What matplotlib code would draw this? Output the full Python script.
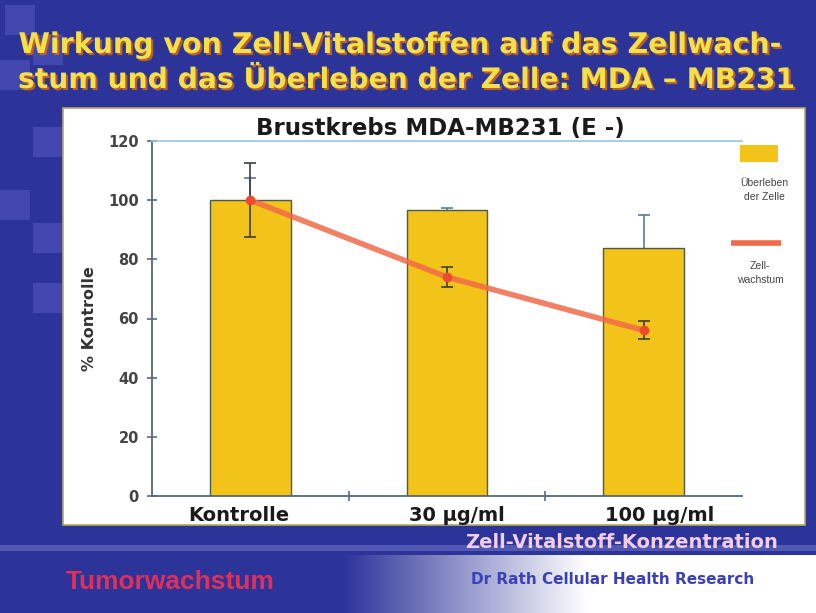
import numpy as np
import matplotlib
matplotlib.use('Agg')
import matplotlib.pyplot as plt
from matplotlib.patches import Rectangle
import matplotlib.patheffects as pe

# data
categories = ['Kontrolle', '30 µg/ml', '100 µg/ml']
survival = [100, 96.6, 84]          # Überleben der Zelle (bars)
survival_err = [7.4, 0.8, 11]
growth = [100, 74, 56]              # Zellwachstum (line)
growth_err = [12.5, 3.4, 3]
yticks = [0, 20, 40, 60, 80, 100, 120]

W, H = 816, 613
BLUE = '#2c3399'
YELLOW = '#f2c318'
ORANGE = '#f26a48'
AXCOL = '#56687a'
WIDE = ['DejaVu Sans']

plt.rcParams['font.family'] = ['Liberation Sans', 'DejaVu Sans']

fig = plt.figure(figsize=(W / 100, H / 100), dpi=100)
fig.patch.set_facecolor(BLUE)

# background layer in pixel coords
bg = fig.add_axes([0, 0, 1, 1])
bg.set_xlim(0, W)
bg.set_ylim(H, 0)
bg.axis('off')

# faint checker decoration
for (x0, y0) in [(5, 5), (33, 35), (0, 60), (33, 127), (0, 190), (33, 223), (33, 283)]:
    bg.add_patch(Rectangle((x0, y0), 30, 30, color='#4248ad', lw=0, zorder=0))

# bottom gradient: blue on the left fading to white on the right
grad = np.linspace(0, 1, 400)
grad = np.clip((grad - 0.42) / 0.3, 0, 1)
c0 = np.array(matplotlib.colors.to_rgb(BLUE))
c1 = np.array([1.0, 1.0, 1.0])
img = c0[None, :] * (1 - grad[:, None]) + c1[None, :] * grad[:, None]
img = np.tile(img[None, :, :], (2, 1, 1))
bg.imshow(img, extent=(0, W, H, 555), aspect='auto', zorder=1)
bg.add_patch(Rectangle((0, 545), W, 6, color='#5058b2', lw=0, zorder=1))

# white chart panel
bg.add_patch(Rectangle((63, 108), 742, 417, facecolor='white', edgecolor='#b8a862',
                       lw=1.2, zorder=2))

# slide titles
shadow = [pe.withSimplePatchShadow(offset=(1.5, -1.5), shadow_rgbFace='#c8641e', alpha=0.9)]
bg.text(400, 45, 'Wirkung von Zell-Vitalstoffen auf das Zellwach-', color='#f4e04a',
        fontsize=20.5, fontweight='bold', family=WIDE, ha='center', va='center', zorder=3,
        path_effects=shadow)
bg.text(408, 80, 'stum und das Überleben der Zelle: MDA – MB231', color='#f4e04a',
        fontsize=20.3, fontweight='bold', family=WIDE, ha='center', va='center', zorder=3,
        path_effects=shadow)

bg.text(622, 542, 'Zell-Vitalstoff-Konzentration', color='#f2cdea', fontsize=14,
        fontweight='bold', family=WIDE, ha='center', va='center', zorder=3)
bg.text(170, 582, 'Tumorwachstum', color='#e0305a', fontsize=19,
        fontweight='bold', ha='center', va='center', zorder=3)
bg.text(613, 579, 'Dr Rath Cellular Health Research', color='#3a40b8', fontsize=11,
        fontweight='bold', family=WIDE, ha='center', va='center', zorder=3)

bg.text(440, 128, 'Brustkrebs MDA-MB231 (E -)', color='#1a1a1a', fontsize=16.5,
        fontweight='bold', family=WIDE, ha='center', va='center', zorder=3)

# legend drawn by hand on the panel
bg.add_patch(Rectangle((740, 145), 38, 17, color=YELLOW, lw=0, zorder=3))
bg.text(764, 190, 'Überleben\nder Zelle', fontsize=7.5, ha='center', va='center',
        color='#444444', zorder=3, linespacing=1.4)
bg.plot([731, 781], [243, 243], color=ORANGE, lw=4, zorder=3, solid_capstyle='butt')
bg.text(760, 273, 'Zell-\nwachstum', fontsize=7.5, ha='center', va='center',
        color='#444444', zorder=3, linespacing=1.4)

# main chart
ax = fig.add_axes([152 / W, (H - 496) / H, 590 / W, 355 / H])
ax.set_facecolor('none')
x = np.arange(len(categories))
# bar error bars sit behind the bars, so only the upper half shows
ax.errorbar(x, survival, yerr=survival_err, fmt='none', ecolor='#5a7a98', elinewidth=1.2,
            capsize=4, capthick=1.2, zorder=1)
ax.bar(x, survival, width=0.41, color=YELLOW, edgecolor='#4a5a50', linewidth=1, zorder=2)
ax.plot(x, growth, color=ORANGE, lw=4, alpha=0.85, zorder=4, solid_capstyle='round')
ax.errorbar(x, growth, yerr=growth_err, fmt='o', color='#f04a2a', ms=6, ecolor='#3a4040',
            elinewidth=1.2, capsize=4, capthick=1.2, zorder=5)

ax.set_xlim(-0.5, 2.5)
ax.set_ylim(0, 120)
ax.set_yticks(yticks)
ax.set_xticks([0.5, 1.5])
ax.set_xticklabels(['', ''])
ax.tick_params(axis='both', direction='inout', length=7, width=1.2, color=AXCOL)
ax.tick_params(axis='y', labelsize=10.5, labelcolor='#444444', pad=6)
for lbl in ax.get_yticklabels():
    lbl.set_fontweight('bold')
    lbl.set_family(WIDE)
label_shift = [-0.06, 0.05, 0.08]
for i, c in enumerate(categories):
    ax.text(i + label_shift[i], -3.5, c, ha='center', va='top', fontsize=14,
            fontweight='bold', family=WIDE, color='#1a1a1a')

for s in ['left', 'bottom']:
    ax.spines[s].set_color(AXCOL)
    ax.spines[s].set_linewidth(1.3)
ax.spines['right'].set_visible(False)
ax.spines['top'].set_color('#9cc4e0')
ax.spines['top'].set_linewidth(1.2)

ax.set_ylabel('% Kontrolle', fontsize=11.5, fontweight='bold', family=WIDE,
              color='#333333', labelpad=8)

fig.savefig('out.png', dpi=100, facecolor=fig.get_facecolor())
